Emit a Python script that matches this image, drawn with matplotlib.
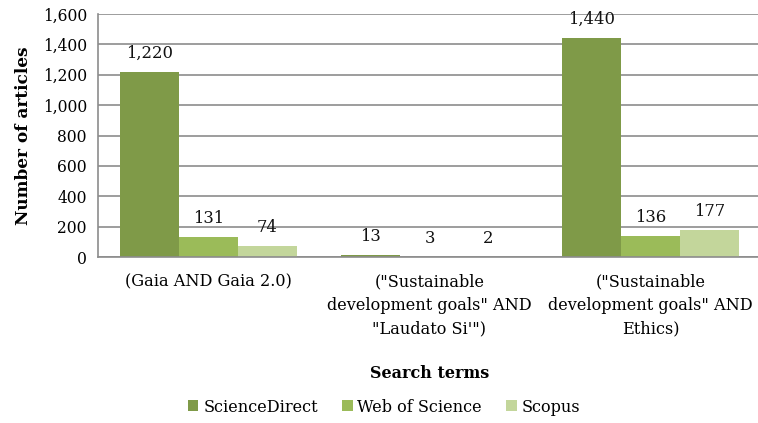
import matplotlib
matplotlib.use("Agg")
from matplotlib import pyplot as plt
import numpy as np

categories = ['(Gaia AND Gaia 2.0)',
              '("Sustainable\ndevelopment goals" AND\n"Laudato Si\'")',
              '("Sustainable\ndevelopment goals" AND\nEthics)']
sources = ['ScienceDirect', 'Web of Science', 'Scopus']
science_direct = [1220, 13, 1440]
web_of_science = [131, 3, 136]
scopus = [74, 2, 177]
yticks = [0, 200, 400, 600, 800, 1000, 1200, 1400, 1600]

colors = ['#7f9a48', '#9bbb59', '#c3d69b']

plt.rcParams['font.family'] = ['DejaVu Serif']

fig = plt.figure(figsize=(7.58, 4.23), dpi=100)
ax = fig.add_axes([98 / 758, 1 - 257 / 423, 663 / 758, 243 / 423])

x = np.arange(len(categories))
width = 0.267
series = [science_direct, web_of_science, scopus]
for i, (vals, name) in enumerate(zip(series, sources)):
    pos = x + (i - 1) * width
    ax.bar(pos, vals, width, color=colors[i], label=name, zorder=2)
    for p, v in zip(pos, vals):
        ax.annotate(f"{v:,}", (p, v), xytext=(0, 10), textcoords='offset pixels',
                    ha='center', va='bottom', fontsize=11.8, color='#111111')

ax.set_xlim(-0.5, 2.5)
ax.set_ylim(0, 1600)
ax.set_yticks(yticks)
ax.set_yticklabels([f"{t:,}" for t in yticks], fontsize=11.2)
ax.yaxis.grid(True, color='#8c8c8c', linewidth=1.2, zorder=0)
ax.set_axisbelow(True)
ax.tick_params(axis='y', length=0, pad=8)
ax.tick_params(axis='x', length=0, pad=12)
ax.set_xticks(x)
ax.set_xticklabels(categories, fontsize=11.6, linespacing=1.5)

for s in ['top', 'right']:
    ax.spines[s].set_visible(False)
ax.spines['left'].set_color('#8c8c8c')
ax.spines['bottom'].set_color('#8c8c8c')
ax.spines['left'].set_linewidth(1.2)
ax.spines['bottom'].set_linewidth(1.2)

ax.set_ylabel("Number of articles", fontsize=12.2, fontweight='bold', labelpad=8)
fig.text(430 / 758, 1 - 373 / 423, "Search terms", ha='center', va='center',
         fontsize=11.5, fontweight='bold')

fig.legend(loc='center', bbox_to_anchor=(384 / 758, 1 - 407 / 423), ncol=3,
           frameon=False, fontsize=11.6, handlelength=0.65, handleheight=0.65,
           handletextpad=0.3, columnspacing=1.5)

fig.savefig("out.png", dpi=100)
